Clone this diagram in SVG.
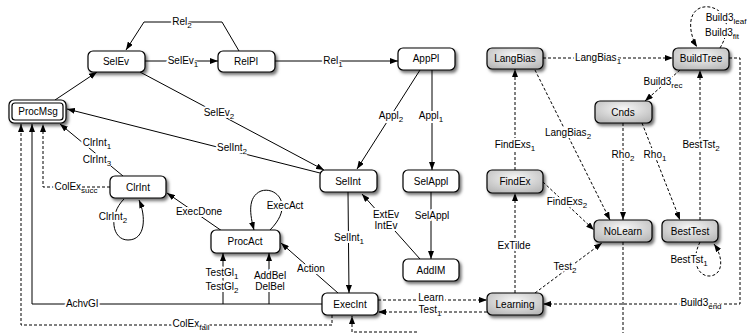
<svg xmlns="http://www.w3.org/2000/svg" width="749" height="333" viewBox="0 0 749 333">
<defs>
<filter id="sh" x="-20%" y="-30%" width="150%" height="180%">
<feDropShadow dx="2" dy="2.5" stdDeviation="1.6" flood-color="#000" flood-opacity="0.55"/>
</filter>
<radialGradient id="gr" cx="50%" cy="35%" r="75%">
<stop offset="0" stop-color="#f7f7f7"/>
<stop offset="1" stop-color="#b4b4b4"/>
</radialGradient>
<marker id="ar" viewBox="0 0 8 6" markerWidth="8" markerHeight="6" refX="8" refY="3" orient="auto" markerUnits="userSpaceOnUse">
<path d="M0,0 L8,3 L0,6 z" fill="#000"/>
</marker>
<style>
.n rect{fill:#fff;stroke:#000;stroke-width:1.2;filter:url(#sh)}
.g rect{fill:url(#gr);stroke:#000;stroke-width:1.2;filter:url(#sh)}
.n text,.g text{font-family:"Liberation Sans",Arial,sans-serif;font-size:10px;text-anchor:middle;fill:#000}
.e path{fill:none;stroke:#000;stroke-width:1;marker-end:url(#ar)}
.e path.d{stroke-dasharray:3,2}
.e path.nm{marker-end:none}
.l text{font-family:"Liberation Sans",Arial,sans-serif;font-size:10px;text-anchor:middle;fill:#000;stroke:#fff;stroke-width:4px;paint-order:stroke;stroke-linejoin:round}
.l tspan{font-size:8px;stroke-width:1.5px}
</style>
</defs>
<rect width="749" height="333" fill="#fff"/>

<g id="connectors" class="e">
<path d="M239,51 L222,22 L144,22 L126,50"/>
<path d="M145,61 L218,61"/>
<path d="M275,61 L398,61"/>
<path d="M55,100 L97,72"/>
<path d="M140,72 L324,170"/>
<path d="M320,173 L67,109"/>
<path d="M420,70 L357,169"/>
<path d="M432,70 L432,170"/>
<path d="M431,192 L431,259"/>
<path d="M420,259 L362,194"/>
<path d="M348,192 L349,293"/>
<path d="M338,293 L281,243"/>
<path d="M270,230 C295,205 276,186 261,191 C247,197 250,215 254,230"/>
<path d="M222,231 L167,193"/>
<path d="M124,199 C108,215 112,240 128,240 C146,240 146,216 139,200"/>
<path d="M123,176 L60,124"/>
<path class="d" d="M110,187 L43,187 L43,124"/>
<path d="M322,304 L32,304 L32,124"/>
<path d="M223,304 L223,253"/>
<path d="M269,304 L269,253"/>
<path class="d" d="M332,315 L332,325 L21,325 L21,124"/>
<path class="d" d="M417,332 L352,332 L352,316"/>
<path class="d nm" d="M623,242 L623,333"/>
<path class="d" d="M378,300 L487,300"/>
<path class="d" d="M487,312 L378,312"/>
<path class="d" d="M729,58 L740,58 L740,304 L543,304"/>
<path class="d" d="M515,293 L515,193"/>
<path class="d" d="M515,170 L515,69"/>
<path class="d" d="M535,293 L602,243"/>
<path class="d" d="M543,182 L594,230"/>
<path class="d" d="M535,70 L610,220"/>
<path class="d" d="M623,123 L623,220"/>
<path class="d" d="M642,123 L680,220"/>
<path class="d" d="M700,220 L700,70"/>
<path class="d" d="M700,242 C690,262 699,277 710,276 C723,275 724,258 714,244"/>
<path class="d" d="M680,70 L645,101"/>
<path class="d" d="M720,48 C738,18 715,2 700,8 C686,14 690,36 697,47"/>
<path class="d" d="M543,58 L673,58"/>
</g>

<g id="labels" class="l">
<text x="182" y="25">Rel<tspan dy="3">2</tspan></text>
<text x="183" y="64">SelEv<tspan dy="3">1</tspan></text>
<text x="333" y="64">Rel<tspan dy="3">1</tspan></text>
<text x="219" y="116">SelEv<tspan dy="3">2</tspan></text>
<text x="232" y="151">SelInt<tspan dy="3">2</tspan></text>
<text x="391" y="119">Appl<tspan dy="3">2</tspan></text>
<text x="431" y="119">Appl<tspan dy="3">1</tspan></text>
<text x="97" y="146">ClrInt<tspan dy="3">1</tspan></text>
<text x="97" y="163">ClrInt<tspan dy="3">3</tspan></text>
<text x="76" y="190">ColEx<tspan dy="3">succ</tspan></text>
<text x="199" y="215">ExecDone</text>
<text x="113" y="220">ClrInt<tspan dy="3">2</tspan></text>
<text x="285" y="209">ExecAct</text>
<text x="349" y="241">SelInt<tspan dy="3">1</tspan></text>
<text x="386" y="218">ExtEv</text>
<text x="386" y="229">IntEv</text>
<text x="432" y="219">SelAppl</text>
<text x="311" y="272">Action</text>
<text x="222" y="276">TestGl<tspan dy="3">1</tspan></text>
<text x="222" y="290">TestGl<tspan dy="3">2</tspan></text>
<text x="270" y="279">AddBel</text>
<text x="270" y="290">DelBel</text>
<text x="82" y="307">AchvGl</text>
<text x="191" y="327">ColEx<tspan dy="3">fail</tspan></text>
<text x="431" y="301">Learn</text>
<text x="430" y="313">Test<tspan dy="3">1</tspan></text>
<text x="598" y="61">LangBias<tspan dy="3">1</tspan></text>
<text x="726" y="21">Build3<tspan dy="3">leaf</tspan></text>
<text x="722" y="36">Build3<tspan dy="3">fit</tspan></text>
<text x="663" y="85">Build3<tspan dy="3">rec</tspan></text>
<text x="568" y="136">LangBias<tspan dy="3">2</tspan></text>
<text x="515" y="148">FindExs<tspan dy="3">1</tspan></text>
<text x="623" y="158">Rho<tspan dy="3">2</tspan></text>
<text x="655" y="158">Rho<tspan dy="3">1</tspan></text>
<text x="701" y="148">BestTst<tspan dy="3">2</tspan></text>
<text x="567" y="205">FindExs<tspan dy="3">2</tspan></text>
<text x="514" y="249">ExTilde</text>
<text x="565" y="270">Test<tspan dy="3">2</tspan></text>
<text x="689" y="263">BestTst<tspan dy="3">1</tspan></text>
<text x="701" y="306">Build3<tspan dy="3">end</tspan></text>
</g>

<g id="ProcMsg" class="n"><rect x="9" y="100" width="57" height="23" rx="5"/><rect x="12" y="103" width="51" height="17" rx="3" style="filter:none"/><text x="38" y="115">ProcMsg</text></g>
<g id="SelEv" class="n"><rect x="88" y="51" width="57" height="21" rx="5"/><text x="116" y="65">SelEv</text></g>
<g id="RelPl" class="n"><rect x="218" y="51" width="57" height="21" rx="5"/><text x="246" y="65">RelPl</text></g>
<g id="AppPl" class="n"><rect x="398" y="48" width="57" height="22" rx="5"/><text x="426" y="62">AppPl</text></g>
<g id="SelInt" class="n"><rect x="320" y="170" width="57" height="22" rx="5"/><text x="348" y="185">SelInt</text></g>
<g id="SelAppl" class="n"><rect x="403" y="170" width="56" height="22" rx="5"/><text x="431" y="185">SelAppl</text></g>
<g id="AddIM" class="n"><rect x="403" y="259" width="56" height="22" rx="5"/><text x="431" y="274">AddIM</text></g>
<g id="ExecInt" class="n"><rect x="322" y="293" width="56" height="22" rx="5"/><text x="350" y="308">ExecInt</text></g>
<g id="ProcAct" class="n"><rect x="211" y="230" width="69" height="23" rx="5"/><text x="245" y="245">ProcAct</text></g>
<g id="ClrInt" class="n"><rect x="110" y="176" width="56" height="22" rx="5"/><text x="138" y="191">ClrInt</text></g>
<g id="LangBias" class="g"><rect x="487" y="48" width="56" height="21" rx="5"/><text x="515" y="62">LangBias</text></g>
<g id="BuildTree" class="g"><rect x="673" y="48" width="56" height="22" rx="5"/><text x="701" y="62">BuildTree</text></g>
<g id="Cnds" class="g"><rect x="595" y="101" width="57" height="22" rx="5"/><text x="623" y="116">Cnds</text></g>
<g id="FindEx" class="g"><rect x="487" y="170" width="56" height="23" rx="5"/><text x="515" y="185">FindEx</text></g>
<g id="NoLearn" class="g"><rect x="594" y="220" width="58" height="22" rx="5"/><text x="623" y="235">NoLearn</text></g>
<g id="BestTest" class="g"><rect x="662" y="220" width="56" height="22" rx="5"/><text x="690" y="235">BestTest</text></g>
<g id="Learning" class="g"><rect x="487" y="293" width="56" height="22" rx="5"/><text x="515" y="308">Learning</text></g>
</svg>
